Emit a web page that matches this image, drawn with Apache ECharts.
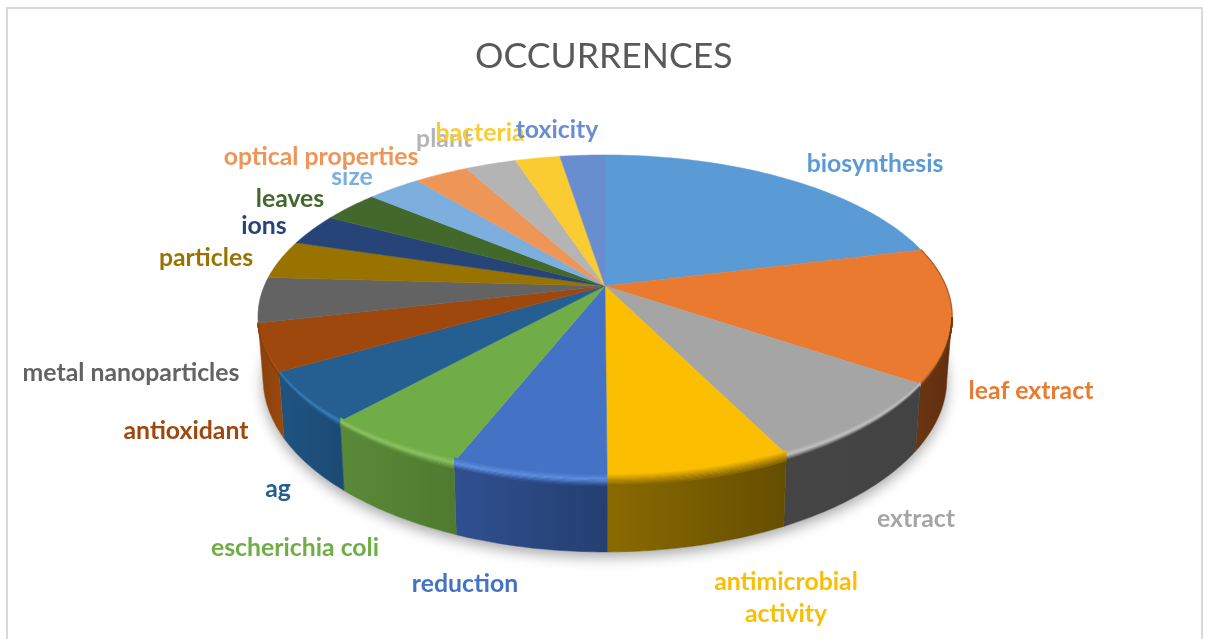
<!DOCTYPE html>
<html>
<head>
<meta charset="utf-8">
<title>OCCURRENCES</title>
<script src="https://cdn.jsdelivr.net/npm/echarts@6/dist/echarts.min.js"></script>
<style>
  html, body { margin: 0; padding: 0; background: #fff; }
  #chart { width: 1205px; height: 639px; }
</style>
</head>
<body>
<div id="chart"></div>
<script>
const categories = ['biosynthesis', 'leaf extract', 'extract', 'antimicrobial\nactivity', 'reduction',
  'escherichia coli', 'ag', 'antioxidant', 'metal nanoparticles', 'particles', 'ions', 'leaves',
  'size', 'optical properties', 'plant', 'bacteria', 'toxicity'];
const occurrences = [126, 80, 49, 43, 36, 34, 30, 28, 27, 23, 19, 19, 18, 18, 17, 15, 15];

const faceColors = ['#5b9bd5', '#e97a30', '#a5a5a5', '#fbbe00', '#4472c4', '#70ad47', '#255e91', '#9e480e',
  '#636363', '#997300', '#264478', '#43682b', '#7cafdd', '#ee9558', '#b4b4b4', '#fbcb32', '#698ed0'];
// left / right shade of the visible wall
const wallColors = {
  1: ['#6b3512', '#5f2f10'], 2: ['#454545', '#434343'], 3: ['#8a6a00', '#654e00'], 4: ['#2f5091', '#243f70'],
  5: ['#5a8a38', '#4f7a30'], 6: ['#1f5482', '#1b4a73'], 7: ['#8a400c', '#9a4a0e']
};
const rimColors = { 1: '#c86825', 2: '#c2c2c2', 3: '#c39400', 4: '#5e8fe0', 5: '#8cc263', 6: '#3b7fba', 7: '#b55a10' };

// where Excel left the labels, by hand
const labelPos = [[875, 164], [1031, 391], [916, 519], [786, 598], [465, 584], [295, 548], [278, 489], [186, 431],
  [131, 373], [206, 258], [264, 226], [290, 199], [352, 177], [321, 157], [444, 139], [480, 133], [557, 130]];

// perspective of the disc, fitted on the picture
const CX = 605, CY = 286, PERSP = 0.189, RX = 340.8, RY = 155.8;
const BOTTOM_X = 0.985, BOTTOM_CY = 346, BOTTOM_RY = 167;
const WALL_FROM = 101, WALL_TO = 259;

const total = occurrences.reduce((a, b) => a + b, 0);
const startAngles = [];
occurrences.reduce((sum, v, i) => { startAngles[i] = sum / total * 360; return sum + v; }, 0);

function topPoint(deg) {
  const t = deg * Math.PI / 180, w = 1 + PERSP * Math.cos(t);
  return [CX + RX * Math.sin(t) / w, CY - RY * Math.cos(t) / w];
}
function bottomPoint(deg) {
  const t = deg * Math.PI / 180, w = 1 + PERSP * Math.cos(t);
  return [CX + BOTTOM_X * RX * Math.sin(t) / w, BOTTOM_CY - BOTTOM_RY * Math.cos(t) / w];
}
function arc(fn, from, to) {
  const pts = [], n = Math.max(2, Math.ceil(Math.abs(to - from)));
  for (let i = 0; i <= n; i++) pts.push(fn(from + (to - from) * i / n));
  return pts;
}
function sliceRange(i) {
  return [startAngles[i], startAngles[i] + occurrences[i] / total * 360];
}
function wallRange(i) {
  const r = sliceRange(i);
  return [Math.max(r[0], WALL_FROM), Math.min(r[1], WALL_TO)];
}

function renderShadow() {
  return {
    type: 'polygon',
    shape: { points: arc(bottomPoint, 0, 360) },
    style: { fill: '#fff', shadowBlur: 14, shadowOffsetY: 5, shadowColor: 'rgba(0,0,0,0.35)' },
    silent: true
  };
}

function renderWall(params) {
  const i = params.dataIndex, r = wallRange(i);
  if (r[1] <= r[0] || !wallColors[i]) return null;
  const pts = arc(topPoint, r[0], r[1]).concat(arc(bottomPoint, r[1], r[0]));
  const c = wallColors[i];
  return {
    type: 'polygon',
    shape: { points: pts },
    style: {
      fill: new echarts.graphic.LinearGradient(0, 0, 1, 0, [{ offset: 0, color: c[0] }, { offset: 1, color: c[1] }]),
      stroke: c[1], lineWidth: 0.5
    },
    silent: true
  };
}

function renderFace(params) {
  const i = params.dataIndex, r = sliceRange(i);
  return {
    type: 'polygon',
    shape: { points: [[CX, CY]].concat(arc(topPoint, r[0], r[1])) },
    style: { fill: faceColors[i], stroke: faceColors[i], lineWidth: 0.5 },
    silent: true
  };
}

// soft bevel on the front rim: a stack of thin curves from face colour to wall colour
function renderRim(params) {
  const i = params.dataIndex, r = wallRange(i);
  if (!wallColors[i] || r[1] <= r[0]) return null;
  const base = arc(topPoint, r[0], r[1]), children = [];
  const ramp = [faceColors[i], rimColors[i], wallColors[i][0]];
  // the leaf extract slice keeps a faint darker edge up its outer rim
  if (i === 1) {
    children.push({
      type: 'polyline',
      shape: { points: arc(topPoint, sliceRange(i)[0], r[0]) },
      style: { fill: null, stroke: '#b5602a', lineWidth: 1.4 },
      silent: true
    });
  }
  for (let s = 0; s <= 9; s++) {
    const dy = -4 + s * 1.2;
    children.push({
      type: 'polyline',
      shape: { points: base.map(p => [p[0], p[1] + dy * Math.max(0, Math.min(1, (p[1] - 300) / 170))]) },
      style: { fill: null, stroke: echarts.color.lerp(s / 9, ramp), lineWidth: 1.6 },
      silent: true
    });
  }
  return { type: 'group', children: children };
}

function renderLabel(params) {
  const i = params.dataIndex;
  return {
    type: 'text',
    x: labelPos[i][0],
    y: labelPos[i][1],
    style: {
      text: categories[i],
      fill: faceColors[i],
      font: '700 24.8px Lato',
      lineHeight: 32,
      align: 'center',
      verticalAlign: 'middle'
    },
    silent: true
  };
}

const sliceData = categories.map((c, i) => ({ name: c, value: occurrences[i] }));
const chart = echarts.init(document.getElementById('chart'), null, { renderer: 'canvas' });

function layer(render, z, data) {
  return { type: 'custom', coordinateSystem: 'none', renderItem: render, data: data, z: z, animation: false, silent: true };
}

chart.setOption({
  backgroundColor: '#fff',
  animation: false,
  title: {
    text: 'OCCURRENCES',
    left: 470,
    top: 34,
    textStyle: { color: '#595959', fontFamily: 'Lato', fontWeight: 400, fontSize: 35.6 }
  },
  graphic: [{
    type: 'rect',
    shape: { x: 7, y: 8, width: 1195, height: 700 },
    style: { fill: null, stroke: '#d9d9d9', lineWidth: 2 },
    silent: true
  }],
  series: [
    layer(renderShadow, 1, [total]),
    layer(renderWall, 2, sliceData),
    layer(renderFace, 3, sliceData),
    layer(renderRim, 4, sliceData),
    layer(renderLabel, 5, sliceData)
  ]
});
</script>
</body>
</html>
